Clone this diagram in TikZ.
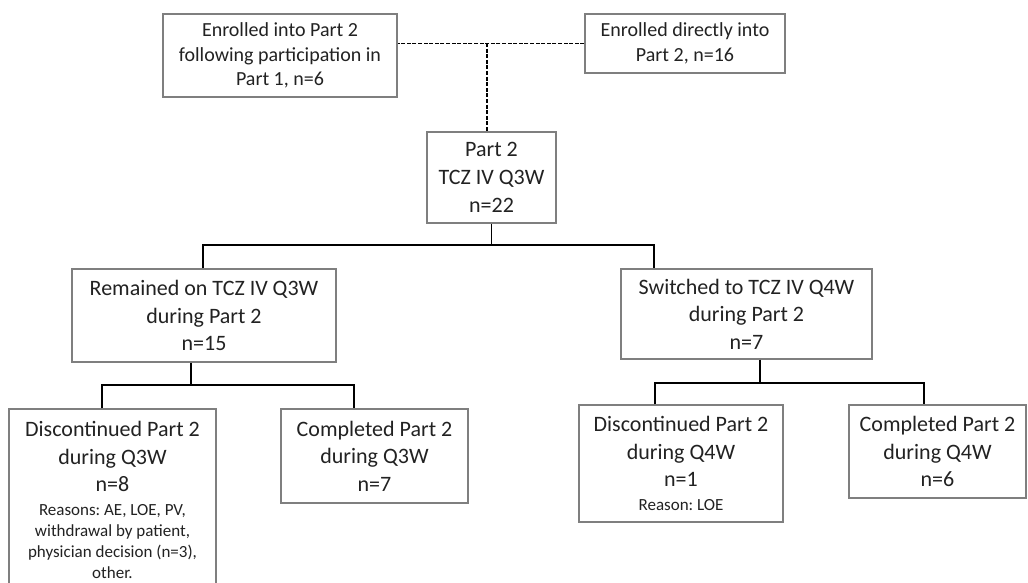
\documentclass[tikz,border=0pt]{standalone}
\usepackage{fontspec}
\setmainfont{Carlito}
\frenchspacing
\definecolor{boxgray}{HTML}{7F7F7F}
\definecolor{txt}{HTML}{222222}
\newcommand{\rsn}{\fontsize{17}{21}\selectfont}
\tikzset{
  box/.style={draw=boxgray, line width=1.2pt, inner sep=0pt, align=center, text=txt},
  big/.style={font=\fontsize{22}{27.5}\selectfont},
  toptext/.style={font=\fontsize{20}{24.5}\selectfont},
  conn/.style={draw=black, line width=1.4pt},
  dconn/.style={draw=black, line width=1.6pt, dash pattern=on 4pt off 1.6pt},
}
\begin{document}
\begin{tikzpicture}[x=1pt, y=-1pt]
\useasboundingbox (0,0) rectangle (1028,582);
\clip (0,0) rectangle (1028,582);
\fill[white] (0,0) rectangle (1028,582);

\node[box, toptext, minimum width=234, minimum height=83] (tl) at (280,55.5)
  {Enrolled into Part 2\\following participation in\\Part 1, n=6};
\node[box, toptext, minimum width=200, minimum height=59] (tr) at (685,43.5)
  {Enrolled directly into\\Part 2, n=16};
\node[box, font=\fontsize{22}{28}\selectfont, minimum width=129, minimum height=91] (p2) at (491.5,177.5)
  {Part 2\\TCZ IV Q3W\\n=22};
\node[box, big, minimum width=264, minimum height=93] (rem) at (204,315.5)
  {Remained on TCZ IV Q3W\\during Part 2\\n=15};
\node[box, big, minimum width=251, minimum height=90] (sw) at (746.5,314)
  {Switched to TCZ IV Q4W\\during Part 2\\n=7};
\node[box, big, minimum width=207, minimum height=182] (dq3) at (112.5,500)
  {Discontinued Part 2\\during Q3W\\n=8\\[-3.5pt]
   \rsn Reasons: AE, LOE, PV,\\[-6.5pt]
   \rsn withdrawal by patient,\\[-6.5pt]
   \rsn physician decision (n=3),\\[-6.5pt]
   \rsn other.};
\node[box, big, minimum width=187, minimum height=94] (cq3) at (374.5,456)
  {Completed Part 2\\during Q3W\\n=7};
\node[box, big, minimum width=204, minimum height=117] (dq4) at (681,463.5)
  {Discontinued Part 2\\during Q4W\\n=1\\[-4pt]
   \rsn Reason: LOE};
\node[box, big, minimum width=177, minimum height=93] (cq4) at (937.5,451.5)
  {Completed Part 2\\during Q4W\\n=6};

% dashed merge
\coordinate (j1) at (487,43);
\draw[dconn] (tr.west) -- (tl.east |- tr.west);
\draw[dconn] (j1) -- (j1 |- p2.north);

% first split
\coordinate (b1L) at (203,245);
\coordinate (b1R) at (654,245);
\draw[conn] (p2.south) -- (p2.south |- b1L);
\draw[conn] (b1L |- rem.north) -- (b1L) -- (b1R) -- (b1R |- sw.north);

% left split
\coordinate (s2) at (191,385);
\coordinate (b2L) at (102,385);
\coordinate (b2R) at (354,385);
\draw[conn] (s2 |- rem.south) -- (s2);
\draw[conn] (b2L |- dq3.north) -- (b2L) -- (b2R) -- (b2R |- cq3.north);

% right split
\coordinate (s3) at (760,383);
\coordinate (b3L) at (655,383);
\coordinate (b3R) at (924,383);
\draw[conn] (s3 |- sw.south) -- (s3);
\draw[conn] (b3L |- dq4.north) -- (b3L) -- (b3R) -- (b3R |- cq4.north);
\end{tikzpicture}
\end{document}
